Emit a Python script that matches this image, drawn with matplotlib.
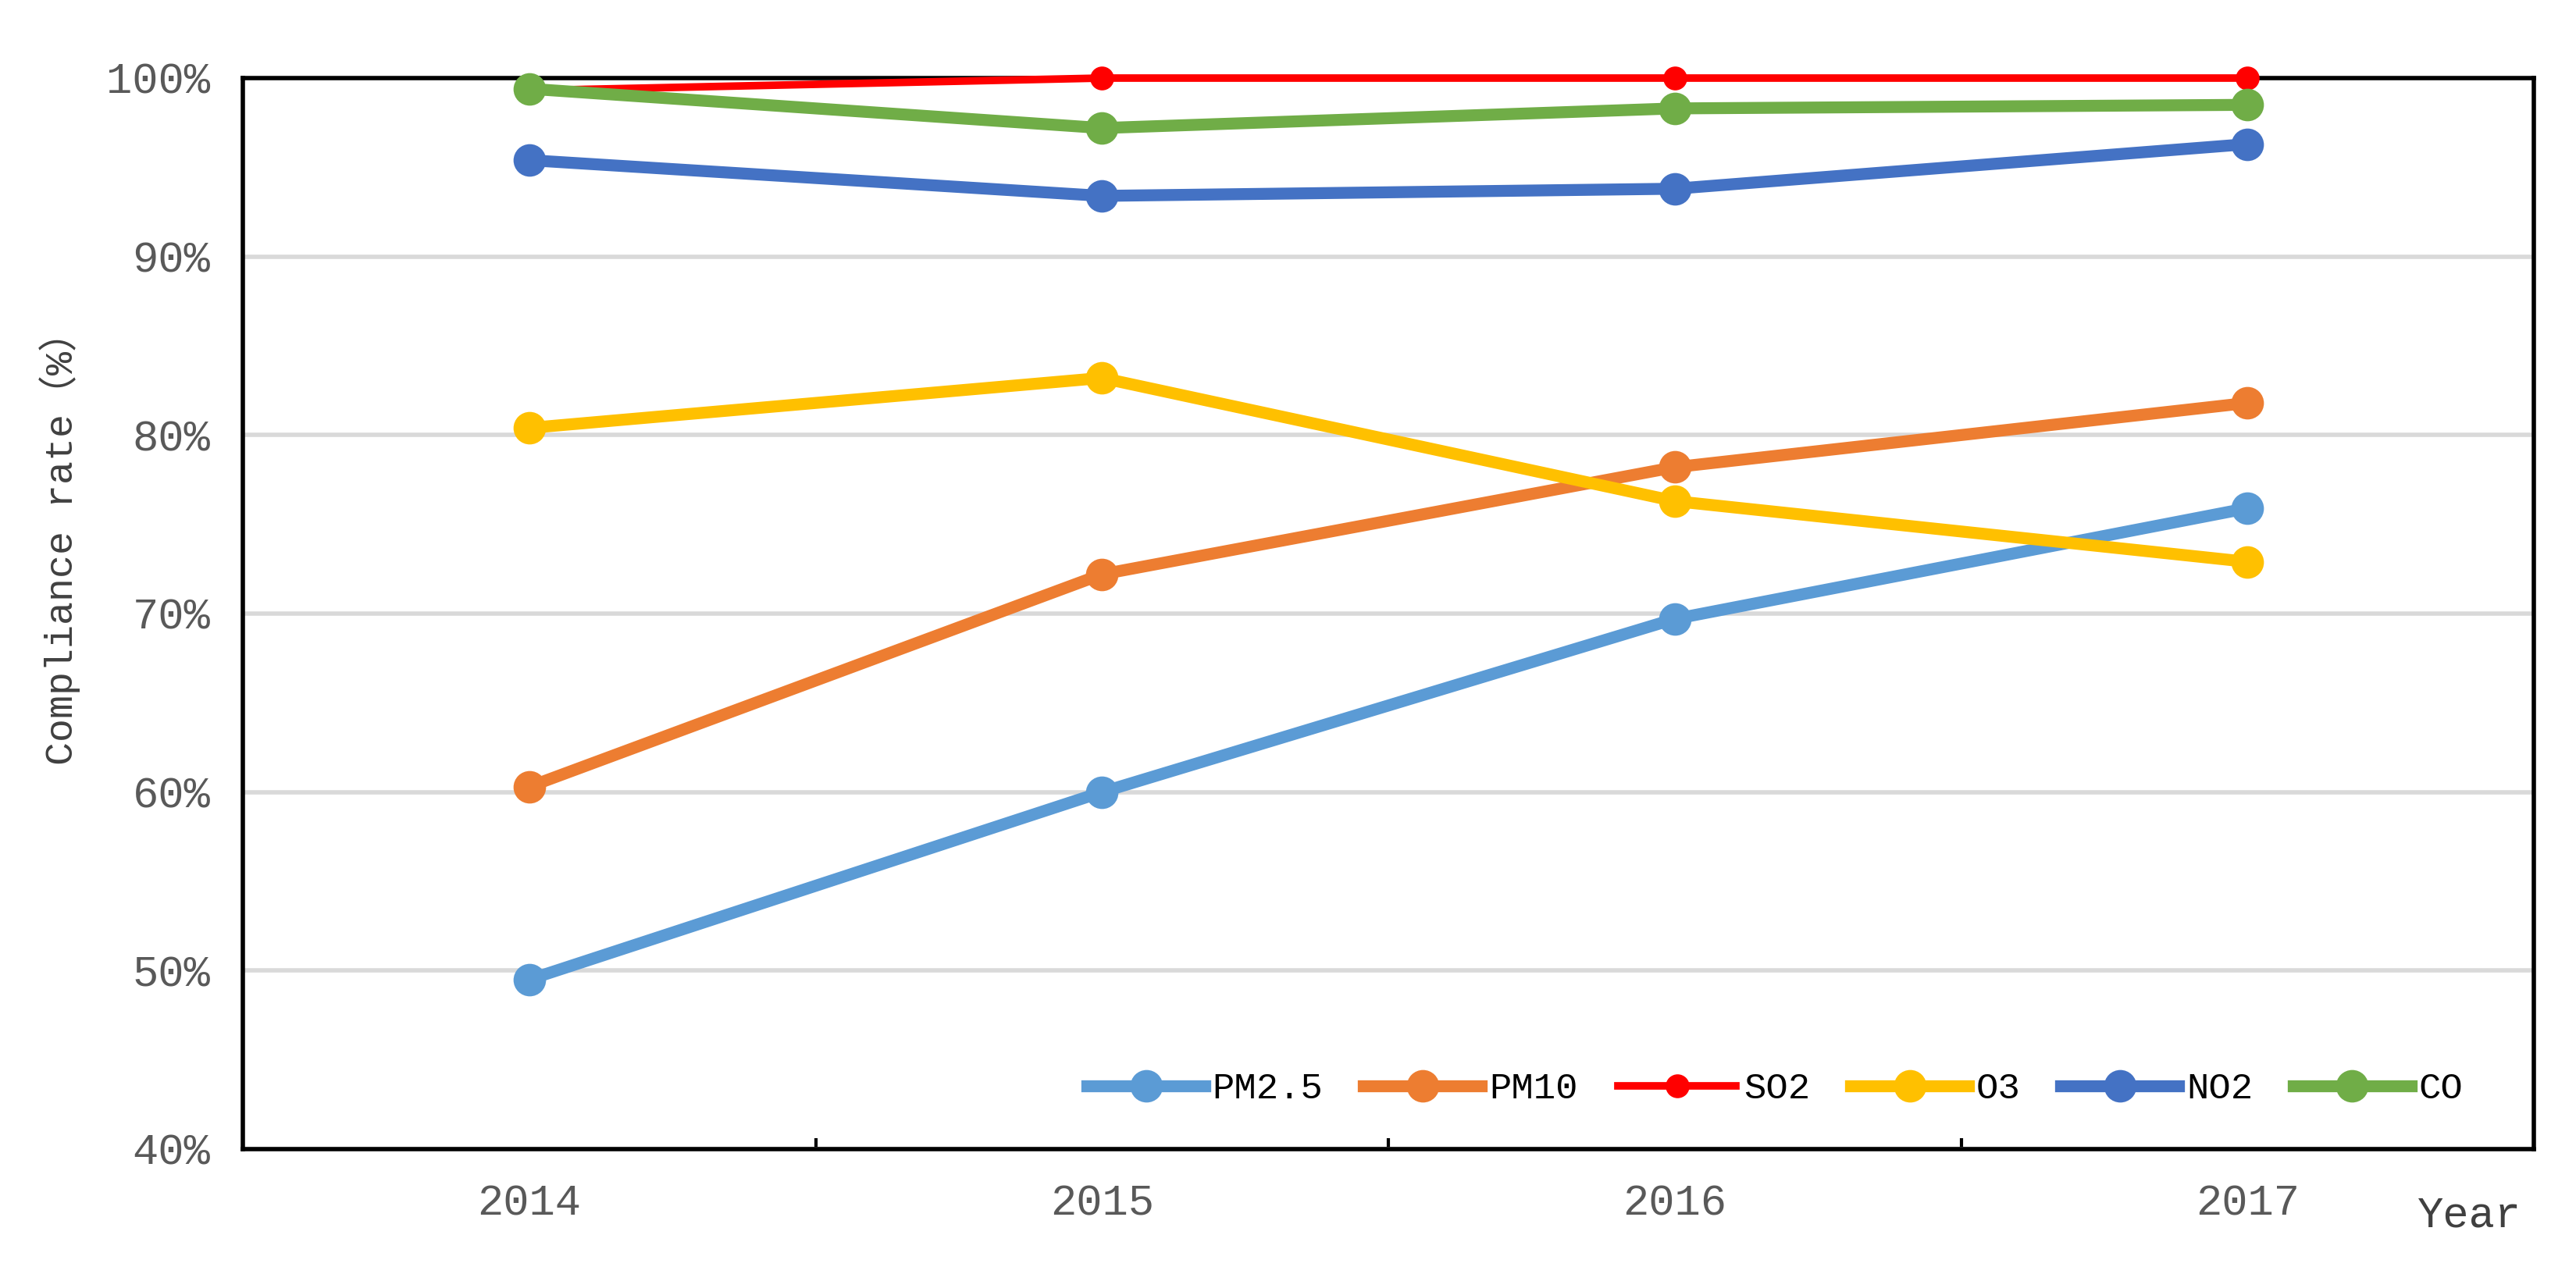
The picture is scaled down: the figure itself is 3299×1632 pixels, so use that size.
import matplotlib
matplotlib.use("Agg")
import matplotlib.pyplot as plt
from matplotlib.ticker import FixedLocator

# ---- data ----
years = ["2014", "2015", "2016", "2017"]
pm25 = [49.5, 60.0, 69.7, 75.9]
pm10 = [60.3, 72.2, 78.2, 81.8]
so2 = [99.3, 100.0, 100.0, 100.0]
o3 = [80.4, 83.2, 76.3, 72.9]
no2 = [95.4, 93.4, 93.8, 96.3]
co = [99.4, 97.2, 98.3, 98.5]

series_names = ["PM2.5", "PM10", "SO2", "O3", "NO2", "CO"]
series_vals = [pm25, pm10, so2, o3, no2, co]
colors = ["#5B9BD5", "#ED7D31", "#FF0000", "#FFC000", "#4472C4", "#70AD47"]

yticks = [40, 50, 60, 70, 80, 90, 100]
ylabels = ["%d%%" % v for v in yticks]

plt.rcParams["font.family"] = ["Liberation Mono", "Noto Sans CJK SC", "DejaVu Sans"]

fig = plt.figure(figsize=(3299 / 200, 1632 / 200), dpi=200)
W, H = 3299.0, 1632.0
ax = fig.add_axes([311 / W, 1 - 1472 / H, (3245 - 311) / W, (1472 - 100) / H])

x = list(range(len(years)))
for name, vals, c in zip(series_names, series_vals, colors):
    if name == "SO2":
        lw, ms = 3.5, 10
    else:
        lw, ms = 5.5, 14
    ax.plot(x, vals, color=c, lw=lw, marker="o", ms=ms, label=name,
            clip_on=False, zorder=3)

ax.set_xlim(-0.5, 3.5)
ax.set_ylim(40, 100)
ax.set_xticks(x)
ax.set_xticklabels(years)
ax.xaxis.set_minor_locator(FixedLocator([0.5, 1.5, 2.5]))
ax.tick_params(axis="x", which="major", length=0, pad=16, labelsize=20, colors="#595959")
ax.tick_params(axis="x", which="minor", direction="in", length=5, width=1.5, color="black")
ax.set_yticks(yticks)
ax.set_yticklabels(ylabels)
ax.tick_params(axis="y", length=0, pad=15, labelsize=20, colors="#595959")

ax.grid(axis="y", color="#D9D9D9", lw=2, zorder=1)
ax.set_axisbelow(True)
for sp in ax.spines.values():
    sp.set_linewidth(2.0)
    sp.set_color("black")

leg = ax.legend(loc="center left", bbox_to_anchor=((1392 - 311) / (3245 - 311), 0.056),
                ncol=6, frameon=False, fontsize=17, handlelength=3.2,
                handletextpad=0.2, columnspacing=1.1, borderaxespad=0, borderpad=0)

fig.text(77 / W, 1 - 690 / H, "Compliance rate（%）", rotation=90,
         ha="center", va="center", fontsize=18, color="#404040")
fig.text(3162 / W, 1 - 1558 / H, "Year", ha="center", va="center",
         fontsize=20, color="#404040")

fig.savefig("out.png", dpi=200)
